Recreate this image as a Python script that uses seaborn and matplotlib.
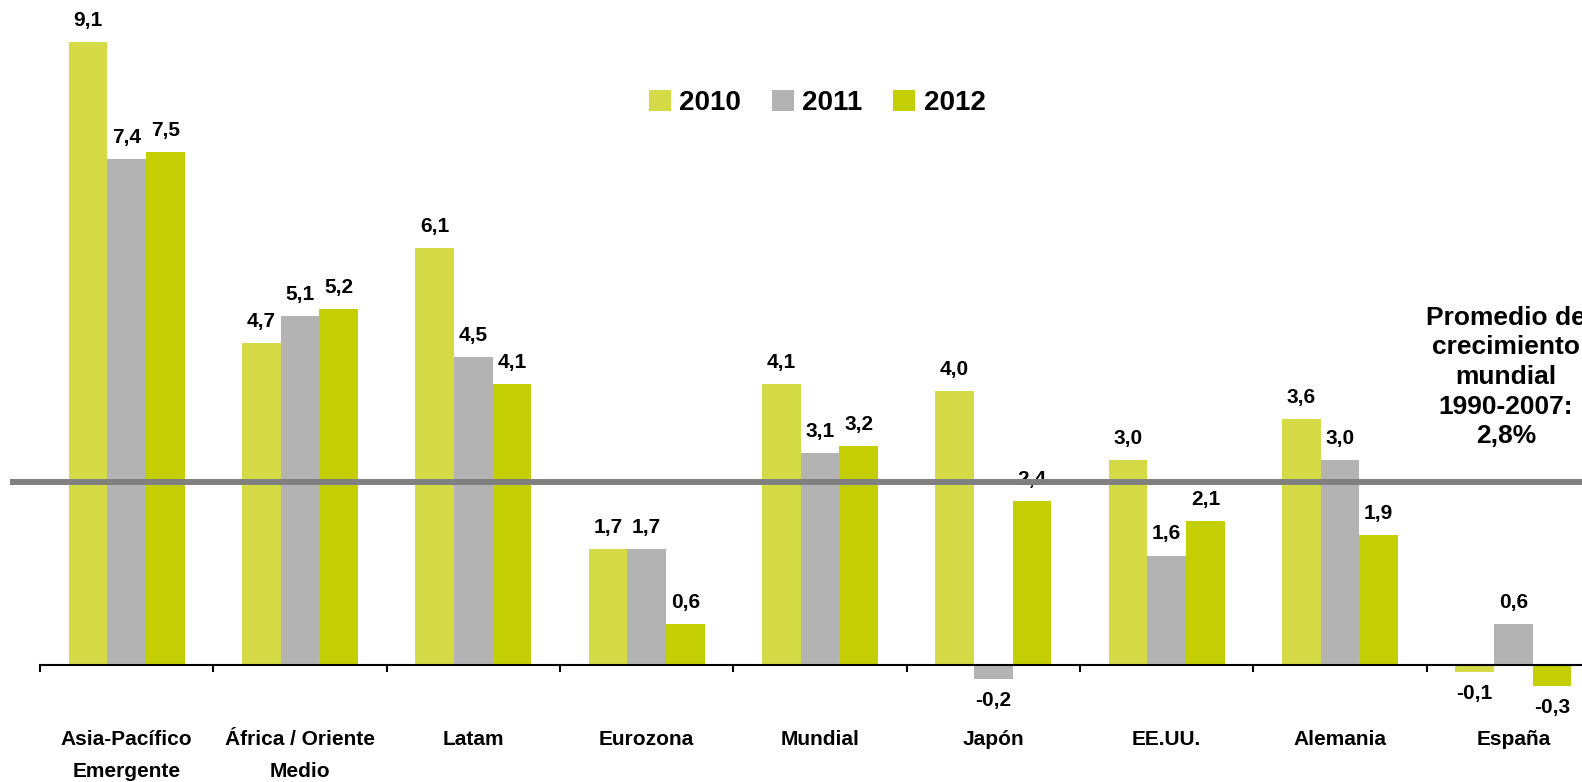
import numpy as np
import pandas as pd
import matplotlib
matplotlib.use("Agg")
import matplotlib.pyplot as plt
import matplotlib.transforms as mtransforms
from matplotlib.patches import Patch
import seaborn as sns

# ---- data ----
regions = ["Asia-Pacífico\nEmergente", "África / Oriente\nMedio", "Latam", "Eurozona",
           "Mundial", "Japón", "EE.UU.", "Alemania", "España"]
years = ["2010", "2011", "2012"]
v2010 = [9.1, 4.7, 6.1, 1.7, 4.1, 4.0, 3.0, 3.6, -0.1]
v2011 = [7.4, 5.1, 4.5, 1.7, 3.1, -0.2, 1.6, 3.0, 0.6]
v2012 = [7.5, 5.2, 4.1, 0.6, 3.2, 2.4, 2.1, 1.9, -0.3]
avg_line_value = 2.68
avg_text = "Promedio de\ncrecimiento\nmundial\n1990-2007:\n2,8%"

colors = ["#D4DB47", "#B3B3B3", "#C4CE05"]

df = pd.DataFrame({
    "region": regions * 3,
    "year": [y for y in years for _ in regions],
    "value": v2010 + v2011 + v2012,
})

sns.set_style("white")
plt.rcParams["font.family"] = ["Liberation Sans", "DejaVu Sans"]
plt.rcParams["font.weight"] = "bold"
plt.rcParams["text.color"] = "black"
plt.rcParams["xtick.color"] = "black"
plt.rcParams["xtick.labelcolor"] = "black"

W, H = 1582, 782
fig = plt.figure(figsize=(W / 100, H / 100), dpi=100)
ax = fig.add_axes([40 / W, 82.8 / H, 1560 / W, 691 / H])

sns.barplot(data=df, x="region", y="value", hue="year", order=regions, hue_order=years,
            palette=colors, width=0.67, gap=0, saturation=1, errorbar=None,
            legend=False, ax=ax, linewidth=0)

ax.set_xlim(-0.5, 8.5)
ax.set_ylim(-0.5, 9.6)
ax.set_xlabel("")
ax.set_ylabel("")
ax.set_yticks([])
for s in ["left", "right", "top"]:
    ax.spines[s].set_visible(False)
ax.spines["bottom"].set_position(("data", 0))
ax.spines["bottom"].set_linewidth(1.5)
ax.spines["bottom"].set_color("black")
ax.spines["bottom"].set_zorder(4)

ax.set_xticks(range(len(regions)))
ax.set_xticklabels(regions, fontsize=15, fontweight="bold", linespacing=1.85, color="black")
ax.tick_params(axis="x", which="major", bottom=True, length=0, pad=46.7)
ax.set_xticks(np.arange(-0.5, 8.5, 1), minor=True)
ax.tick_params(axis="x", which="minor", bottom=True, length=5, width=1.5,
               direction="out", color="black")

# value labels
for cont in ax.containers:
    vals = cont.datavalues
    labs = [f"{v:.1f}".replace(".", ",") for v in vals]
    ax.bar_label(cont, labels=labs, padding=8.7, fontsize=15, fontweight="bold",
                 color="black", zorder=3)

# average line spanning full width
trans = mtransforms.blended_transform_factory(fig.transFigure, ax.transData)
ax.plot([10 / W, 1.0], [avg_line_value, avg_line_value], transform=trans,
        color="#808080", linewidth=4.3, solid_capstyle="butt", zorder=6, clip_on=False)

fig.text(1506 / W, 1 - 377 / H, avg_text, ha="center", va="center", multialignment="center",
         fontsize=19, fontweight="bold", linespacing=1.29, color="black")

handles = [Patch(facecolor=c, edgecolor="none") for c in colors]
fig.legend(handles, years, ncol=3, frameon=False, loc="center",
           bbox_to_anchor=(817 / W, 1 - 103 / H),
           prop={"size": 20, "weight": "bold"}, handlelength=0.8, handleheight=0.8,
           handletextpad=0.3, columnspacing=1.1)

fig.savefig("out.png", dpi=100)
